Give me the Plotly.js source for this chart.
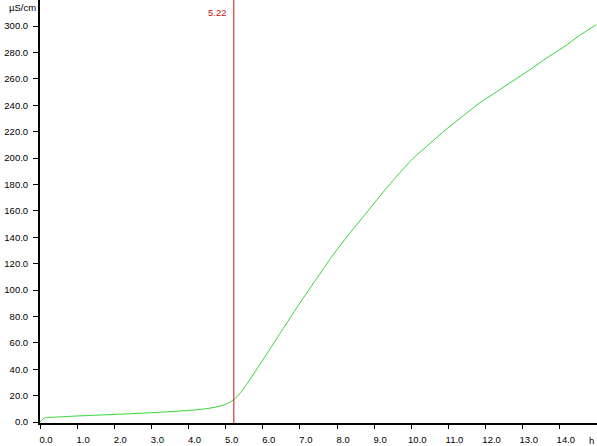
<!DOCTYPE html>
<html>
<head>
<meta charset="utf-8">
<script src="https://cdn.plot.ly/plotly-3.0.1.min.js"></script>
<style>
  html, body { margin: 0; padding: 0; background: #fff; }
  #chart { width: 597px; height: 446px; }
</style>
</head>
<body>
<div id="chart"></div>
<script>
// conductivity curve (hours, µS/cm)
var hours = [0, 0.05, 0.1, 0.2, 0.3, 0.5, 1.0, 1.5, 2.0, 2.5, 3.0, 3.5, 4.0, 4.5, 4.8, 5.0,
             5.22, 5.4, 5.6, 5.8, 6.0, 6.45, 6.9, 7.42, 7.89, 8.34, 8.79, 9.15, 9.6,
             10.04, 10.5, 10.94, 11.4, 11.84, 12.3, 12.74, 13.2, 13.63, 14.1, 14.53, 14.98];
var conductivity = [0, 1.5, 2.8, 3.4, 3.6, 3.9, 4.6, 5.2, 5.8, 6.4, 7.1, 7.9, 8.8, 10.2, 11.8, 13.4,
                    17.0, 22.3, 30.0, 38.5, 47.0, 66.5, 86.0, 107.5, 126.5, 143.0, 158.5, 171.0, 186.0,
                    199.5, 211.0, 221.8, 232.0, 241.8, 250.2, 258.5, 267.0, 275.5, 284.0, 292.8, 301.0];

var markerHour = 5.22;
var markerLabel = "5.22";

var xTicks = [0,1,2,3,4,5,6,7,8,9,10,11,12,13,14];
var yTicks = [0,20,40,60,80,100,120,140,160,180,200,220,240,260,280,300];

var xUnit = "h";
var yUnit = "µS/cm";

var green = "#33d633";
var red = "#cc1111";
var tickFont = {family: "Liberation Sans, Arial, sans-serif", size: 9.5, color: "#000"};

var curve = {
  x: hours,
  y: conductivity,
  type: "scatter",
  mode: "lines",
  line: {color: green, width: 1, shape: "spline", smoothing: 0.7},
  hoverinfo: "x+y",
  showlegend: false
};

var layout = {
  width: 597,
  height: 446,
  margin: {l: 40, r: 0, t: 0, b: 23},
  paper_bgcolor: "#fff",
  plot_bgcolor: "#fff",
  showlegend: false,
  xaxis: {
    range: [0, 15],
    tickvals: xTicks,
    ticktext: xTicks.map(function(v){ return v.toFixed(1); }),
    ticks: "outside", ticklen: 4, tickcolor: "#000", tickwidth: 1,
    ticklabelshift: 6, ticklabelstandoff: 3,
    showline: true, linecolor: "#000", linewidth: 2,
    showgrid: false, zeroline: false,
    tickfont: tickFont
  },
  yaxis: {
    range: [-0.7, 319.7],
    tickvals: yTicks,
    ticktext: yTicks.map(function(v){ return v.toFixed(1); }),
    ticks: "outside", ticklen: 5, tickcolor: "#000", tickwidth: 1,
    ticklabelstandoff: 3,
    showline: true, linecolor: "#000", linewidth: 2,
    showgrid: false, zeroline: false,
    tickfont: tickFont
  },
  shapes: [{
    type: "line",
    xref: "x", yref: "paper",
    x0: markerHour, x1: markerHour, y0: 0, y1: 1,
    line: {color: red, width: 1}
  }],
  annotations: [
    {
      text: markerLabel, xref: "x", yref: "paper",
      x: markerHour, y: 1, xanchor: "right", yanchor: "top",
      xshift: -5, yshift: -5, showarrow: false,
      font: {family: tickFont.family, size: 9.5, color: red}
    },
    {
      text: yUnit, xref: "paper", yref: "paper",
      x: 0, y: 1, xanchor: "right", yanchor: "top",
      xshift: -2, yshift: 0, showarrow: false,
      font: tickFont
    },
    {
      text: xUnit, xref: "paper", yref: "paper",
      x: 1, y: 0, xanchor: "right", yanchor: "top",
      xshift: -1, yshift: -10, showarrow: false,
      font: tickFont
    }
  ]
};

Plotly.newPlot("chart", [curve], layout, {displayModeBar: false, staticPlot: true});
</script>
</body>
</html>
